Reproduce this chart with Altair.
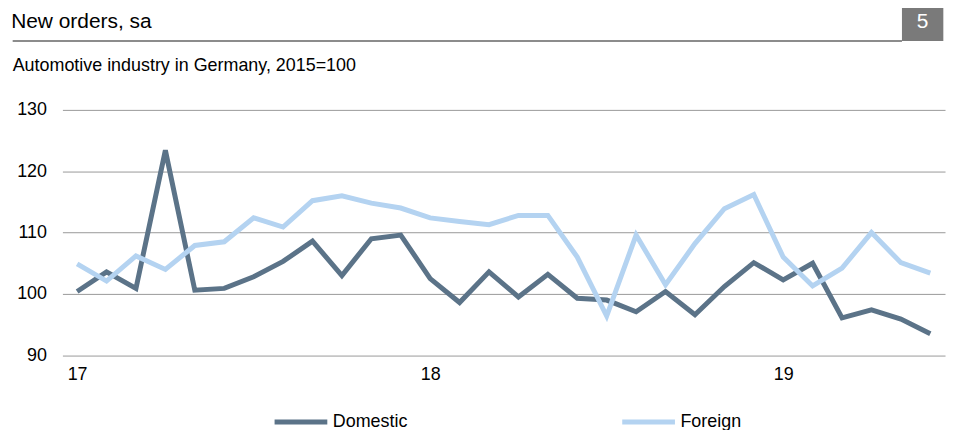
import altair as alt
import pandas as pd

months = [f"{y}-{m:02d}" for y in (2017, 2018, 2019) for m in range(1, 13)][:30]

domestic = [100.4, 103.6, 100.9, 123.4, 100.6, 100.9, 102.8, 105.3, 108.6, 103.0, 109.0, 109.6,
            102.5, 98.6, 103.6, 99.5, 103.2, 99.3, 99.0, 97.1, 100.4, 96.6, 101.2, 105.1,
            102.3, 105.0, 96.1, 97.4, 95.9, 93.5]
foreign = [104.9, 102.1, 106.2, 104.0, 107.9, 108.5, 112.4, 110.9, 115.2, 116.0, 114.8, 114.0,
           112.4, 111.8, 111.3, 112.8, 112.8, 106.0, 96.4, 109.6, 101.5, 108.2, 113.9, 116.2,
           106.0, 101.3, 104.2, 110.0, 105.1, 103.4]

series_names = ["Domestic", "Foreign"]
series_colors = ["#5b7388", "#b4d3f1"]
y_ticks = [90, 100, 110, 120, 130]

title_text = "New orders, sa"
subtitle_text = "Automotive industry in Germany, 2015=100"
page_number = "5"

FONT = "Arial, Liberation Sans, sans-serif"

df = pd.DataFrame({
    "month": months * 2,
    "series": ["Domestic"] * len(months) + ["Foreign"] * len(months),
    "value": domestic + foreign,
})

W, H = 887.3, 246.7

lines = alt.Chart(df).mark_line(strokeWidth=5).encode(
    x=alt.X("month:O", sort=None,
            scale=alt.Scale(type="point", padding=0.5),
            axis=alt.Axis(title=None, labelAngle=0, ticks=False, domain=False,
                          labelExpr="slice(datum.value, 5) == '01' ? slice(datum.value, 2, 4) : ''",
                          labelFontSize=18, labelFont=FONT, labelColor="#000000",
                          labelPadding=10)),
    y=alt.Y("value:Q", scale=alt.Scale(domain=[90, 130], nice=False, zero=False),
            axis=alt.Axis(title=None, values=y_ticks, ticks=False, domain=False,
                          grid=True, gridColor="#999999", gridWidth=1,
                          labelFontSize=18, labelFont=FONT, labelColor="#000000",
                          labelPadding=16)),
    color=alt.Color("series:N", sort=series_names,
                    scale=alt.Scale(domain=series_names, range=series_colors),
                    legend=alt.Legend(title=None, orient="none", direction="horizontal",
                                      legendX=210.8, legendY=284.7,
                                      symbolType="stroke", symbolStrokeWidth=5,
                                      symbolSize=2809, labelFontSize=18, labelFont=FONT,
                                      labelColor="#000000", labelOffset=3,
                                      columnPadding=204.5, padding=0)),
)

one = pd.DataFrame({"t": [title_text], "s": [subtitle_text], "p": [page_number]})

title = alt.Chart(one).mark_text(align="left", baseline="alphabetic", fontSize=21,
                                 font=FONT, color="#000000").encode(
    x=alt.value(-51.5), y=alt.value(-82.6), text="t:N")

subtitle = alt.Chart(one).mark_text(align="left", baseline="alphabetic", fontSize=18,
                                    font=FONT, color="#000000").encode(
    x=alt.value(-50), y=alt.value(-39.3), text="s:N")

title_rule = alt.Chart(one).mark_rule(color="#8c8c8c", strokeWidth=2).encode(
    x=alt.value(-50), x2=alt.value(844), y=alt.value(-69.3))

box = alt.Chart(one).mark_rect(color="#7a7a7a").encode(
    x=alt.value(844), x2=alt.value(885.6), y=alt.value(-109.3), y2=alt.value(-69.3))

box_text = alt.Chart(one).mark_text(align="center", baseline="alphabetic", fontSize=21,
                                    font=FONT, color="#ffffff").encode(
    x=alt.value(864.8), y=alt.value(-82.6), text="p:N")

chart = alt.layer(lines, title_rule, box, title, subtitle, box_text).properties(
    width=W, height=H,
    autosize=alt.AutoSizeParams(type="none"),
    padding={"left": 54.7, "top": 101.3, "right": 4, "bottom": 76},
).configure_view(stroke=None)

chart.save("out.html", embed_options={"renderer": "svg", "actions": False})
